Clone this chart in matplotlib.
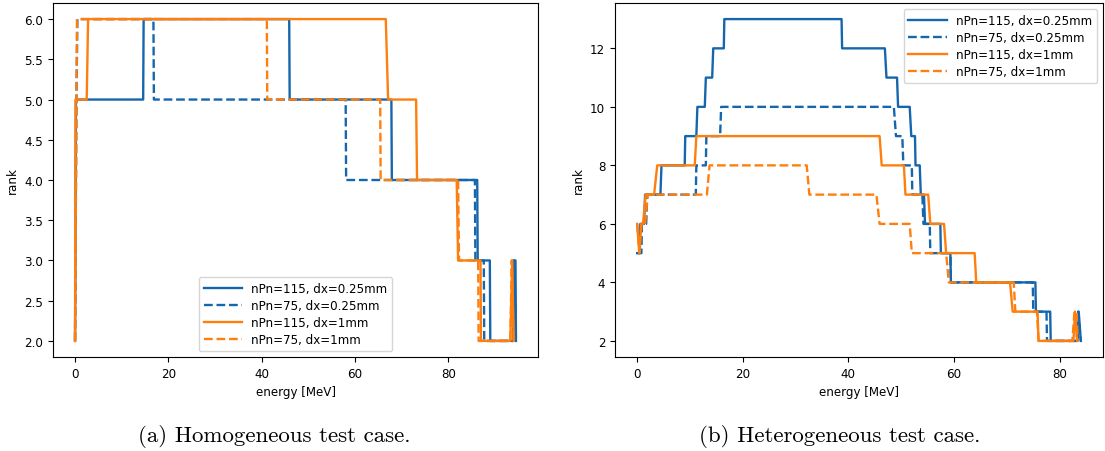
import matplotlib
matplotlib.use("Agg")
import matplotlib.pyplot as plt

# ---- Homogeneous case: rank vs. energy (polyline vertices) ----
hom_b115_E = [0.0, 0.2, 14.6, 14.7, 45.9, 46.0, 67.8, 67.9, 86.2, 86.3, 88.9, 89.0, 93.9, 94.0, 94.4, 94.5]
hom_b115_r = [2, 5, 5, 6, 6, 5, 5, 4, 4, 3, 3, 2, 2, 3, 3, 2]

hom_b75_E = [0.0, 0.3, 0.5, 16.8, 16.9, 58.0, 58.1, 85.7, 85.8, 87.6, 87.7, 93.9, 94.1, 94.5]
hom_b75_r = [2, 5, 6, 6, 5, 5, 4, 4, 3, 3, 2, 2, 3, 2]

hom_o115_E = [0.0, 0.1, 2.5, 2.8, 66.6, 67.1, 73.1, 73.3, 81.8, 82.1, 86.9, 87.0, 93.3, 93.7, 94.0]
hom_o115_r = [2, 5, 5, 6, 6, 5, 5, 4, 4, 3, 3, 2, 2, 3, 2]

hom_o75_E = [0.0, 0.3, 0.4, 41.1, 41.2, 65.4, 65.5, 82.1, 82.3, 86.4, 86.5, 93.3, 93.6, 94.0]
hom_o75_r = [2, 5, 6, 6, 5, 5, 4, 4, 3, 3, 2, 2, 3, 2]

# ---- Heterogeneous case ----
het_b115_E = [0.0, 0.5, 0.6, 1.3, 1.5, 4.4, 4.6, 9.0, 9.1, 11.2, 11.4, 12.8, 13.0, 14.2, 14.4,
              16.4, 16.5, 38.7, 38.8, 46.9, 47.2, 49.2, 49.4, 51.6, 51.9, 52.6, 52.7, 53.5, 53.7,
              54.3, 54.5, 57.4, 57.5, 59.3, 59.4, 75.4, 75.5, 78.2, 78.3, 83.4, 83.6, 84.0]
het_b115_r = [5, 5, 6, 6, 7, 7, 8, 8, 9, 9, 10, 10, 11, 11, 12,
              12, 13, 13, 12, 12, 11, 11, 10, 10, 9, 9, 8, 8, 7,
              7, 6, 6, 5, 5, 4, 4, 3, 3, 2, 2, 3, 2]

het_b75_E = [0.0, 0.8, 0.9, 1.7, 1.9, 11.1, 11.2, 13.0, 13.1, 15.7, 15.9, 48.6, 49.0, 50.2, 50.4,
             52.0, 52.1, 54.0, 54.2, 55.4, 55.5, 59.3, 59.4, 74.9, 75.0, 77.5, 77.6, 83.2, 83.5, 84.0]
het_b75_r = [5, 5, 6, 6, 7, 7, 8, 8, 9, 9, 10, 10, 9, 9, 8,
             8, 7, 7, 6, 6, 5, 5, 4, 4, 3, 3, 2, 2, 3, 2]

het_o115_E = [0.0, 0.4, 0.8, 1.1, 1.6, 3.2, 3.8, 10.9, 11.2, 45.9, 46.3, 50.5, 50.8, 55.1, 55.5,
              58.1, 58.5, 63.9, 64.2, 70.6, 71.1, 75.8, 76.0, 82.6, 82.9, 83.3]
het_o115_r = [6, 5, 6, 6, 7, 7, 8, 8, 9, 9, 8, 8, 7, 7, 6,
              6, 5, 5, 4, 4, 3, 3, 2, 2, 3, 2]

het_o75_E = [0.0, 0.4, 0.8, 1.5, 2.0, 13.2, 13.7, 32.1, 32.6, 45.3, 45.9, 51.6, 52.0, 58.5, 59.0,
             71.3, 71.6, 75.7, 76.0, 82.4, 82.8, 83.2, 83.4]
het_o75_r = [6, 5, 6, 6, 7, 7, 8, 8, 7, 7, 6, 6, 5, 5, 4,
             4, 3, 3, 2, 2, 3, 3, 2]

labels = ["nPn=115, dx=0.25mm", "nPn=75, dx=0.25mm", "nPn=115, dx=1mm", "nPn=75, dx=1mm"]
captions = ["(a) Homogeneous test case.", "(b) Heterogeneous test case."]

BLUE = "#1666ae"
ORANGE = "#ff7f0e"
styles = [(BLUE, "-"), (BLUE, "--"), (ORANGE, "-"), (ORANGE, "--")]

plt.rcParams["font.family"] = "DejaVu Sans"
plt.rcParams["font.size"] = 8.6

fig = plt.figure(figsize=(11.05, 4.52), dpi=100)
ax1 = fig.add_axes([53 / 1105, 94 / 452, 485 / 1105, 354 / 452])
ax2 = fig.add_axes([615 / 1105, 94 / 452, 488 / 1105, 354 / 452])

hom = [(hom_b115_E, hom_b115_r), (hom_b75_E, hom_b75_r), (hom_o115_E, hom_o115_r), (hom_o75_E, hom_o75_r)]
het = [(het_b115_E, het_b115_r), (het_b75_E, het_b75_r), (het_o115_E, het_o115_r), (het_o75_E, het_o75_r)]

for ax, series in ((ax1, hom), (ax2, het)):
    for (E, r), (c, ls), lab in zip(series, styles, labels):
        ax.plot(E, r, color=c, linestyle=ls, linewidth=1.7, label=lab)
    ax.set_xlabel("energy [MeV]")
    ax.set_ylabel("rank")
    ax.set_xticks([0, 20, 40, 60, 80])

ax1.set_yticks([2.0, 2.5, 3.0, 3.5, 4.0, 4.5, 5.0, 5.5, 6.0])
ax1.yaxis.set_major_formatter(matplotlib.ticker.FormatStrFormatter("%.1f"))
ax2.set_yticks([2, 4, 6, 8, 10, 12])

ax1.legend(loc="lower center", handlelength=3.2, labelspacing=0.35)
ax2.legend(loc="upper right", handlelength=3.2, labelspacing=0.35)

fig.text(274 / 1105, 1 - 437 / 452, captions[0], family="cmr10", fontsize=16.5, ha="center", va="center")
fig.text(840 / 1105, 1 - 437 / 452, captions[1], family="cmr10", fontsize=16.5, ha="center", va="center")

fig.savefig("out.png", dpi=100)
